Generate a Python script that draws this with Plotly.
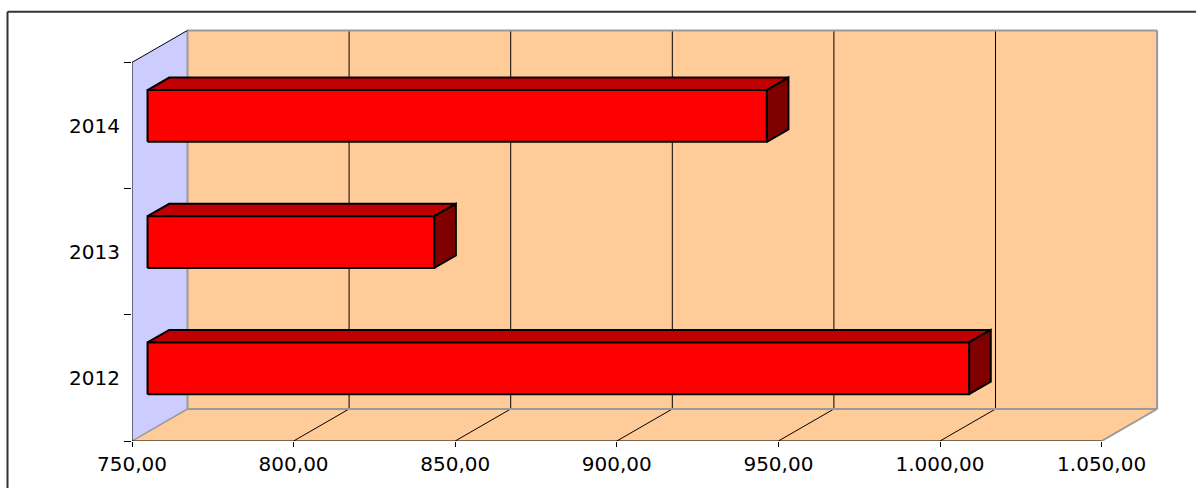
import plotly.graph_objects as go

# ---- data ----
years = ["2012", "2013", "2014"]
values = [1004.2, 838.7, 941.6]
x_ticks = [750, 800, 850, 900, 950, 1000, 1050]

# ---- geometry / style ----
W, H = 1196, 488
L, R, T, B = 132, 30, 26, 47
PX_PER_UNIT = 3.232
PX_PER_CAT = 126.2
plot_w = W - L - R
plot_h = H - T - B
XMIN, XMAX = x_ticks[0], x_ticks[-1]
x_range = [XMIN, XMIN + plot_w / PX_PER_UNIT]
y_range = [0, plot_h / PX_PER_CAT]
NCAT = len(years)
DX = 55.5 / PX_PER_UNIT   # depth offset in value units
DY = 32.0 / PX_PER_CAT    # depth offset in category units
D0, D1 = 0.28, 0.67       # bar depth fractions
Y0, Y1 = 0.30, 0.71       # bar vertical extent within category

LAVENDER = "#ccccff"
PEACH = "#ffcc99"
GRAY = "#9a9a9a"
FONT = dict(family="DejaVu Sans", size=20, color="#000000")

fig = go.Figure()
shapes = []

def poly(xs, ys):
    d = "M " + " L ".join(f"{x},{y}" for x, y in zip(xs, ys)) + " Z"
    return d

# walls & floor
shapes.append(dict(type="path", xref="x", yref="y", layer="below",
                   path=poly([XMIN, XMIN, XMIN + DX, XMIN + DX], [0, NCAT, NCAT + DY, DY]),
                   fillcolor=LAVENDER, line=dict(width=0)))
shapes.append(dict(type="path", xref="x", yref="y", layer="below",
                   path=poly([XMIN + DX, XMAX + DX, XMAX + DX, XMIN + DX], [DY, DY, NCAT + DY, NCAT + DY]),
                   fillcolor=PEACH, line=dict(width=0)))
shapes.append(dict(type="path", xref="x", yref="y", layer="below",
                   path=poly([XMIN, XMAX, XMAX + DX, XMIN + DX], [0, 0, DY, DY]),
                   fillcolor=PEACH, line=dict(width=0)))

def seg(x0, y0, x1, y1, color, width):
    shapes.append(dict(type="line", xref="x", yref="y", layer="below",
                       x0=x0, y0=y0, x1=x1, y1=y1, line=dict(color=color, width=width)))

# gridlines (back wall verticals + floor diagonals)
for v in x_ticks[1:-1]:
    seg(v + DX, DY, v + DX, NCAT + DY, "#000000", 1)
    seg(v, 0, v + DX, DY, "#000000", 1)

# gray wall borders
seg(XMIN + DX, DY, XMIN + DX, NCAT + DY, GRAY, 2)
seg(XMIN + DX, NCAT + DY, XMAX + DX, NCAT + DY, GRAY, 2)
seg(XMAX + DX, NCAT + DY, XMAX + DX, DY, GRAY, 2)
seg(XMIN + DX, DY, XMAX + DX, DY, GRAY, 2)
seg(XMAX, 0, XMAX + DX, DY, GRAY, 2)
seg(XMIN, 0, XMIN + DX, DY, GRAY, 1.5)

# black front edges
seg(XMIN, NCAT, XMIN + DX, NCAT + DY, "#000000", 1)
seg(XMIN, 0, XMIN, NCAT, "#000000", 1)
seg(XMIN, 0, XMAX, 0, "#000000", 1)

# outer chart border (top and left visible)
def px_to_paper_x(px):
    return (px - L) / plot_w

def px_to_paper_y(py):
    return (H - B - py) / plot_h

bx, by = 7.5, 11.7
shapes.append(dict(type="line", xref="paper", yref="paper",
                   x0=px_to_paper_x(bx), y0=px_to_paper_y(by),
                   x1=px_to_paper_x(W + 5), y1=px_to_paper_y(by),
                   line=dict(color="#333333", width=2)))
shapes.append(dict(type="line", xref="paper", yref="paper",
                   x0=px_to_paper_x(bx), y0=px_to_paper_y(by),
                   x1=px_to_paper_x(bx), y1=px_to_paper_y(H + 5),
                   line=dict(color="#333333", width=2)))

# bars
def face(xs, ys, color):
    fig.add_trace(go.Scatter(x=xs + [xs[0]], y=ys + [ys[0]], mode="lines",
                             fill="toself", fillcolor=color,
                             line=dict(color="#000000", width=2),
                             hoverinfo="skip", showlegend=False))

for i, (yr, v) in enumerate(zip(years, values)):
    c = i
    xf0 = XMIN + D0 * DX
    xf1 = v + D0 * DX
    xb0 = XMIN + D1 * DX
    xb1 = v + D1 * DX
    yf0 = c + Y0 + D0 * DY
    yf1 = c + Y1 + D0 * DY
    yb0 = c + Y0 + D1 * DY
    yb1 = c + Y1 + D1 * DY
    face([xf0, xf1, xb1, xb0], [yf1, yf1, yb1, yb1], "#c00000")   # top
    face([xf1, xb1, xb1, xf1], [yf0, yb0, yb1, yf1], "#800000")   # side
    face([xf0, xf1, xf1, xf0], [yf0, yf0, yf1, yf1], "#ff0000")   # front

# invisible trace on y2 for the category labels axis
fig.add_trace(go.Scatter(x=[XMIN], y=[0.5], yaxis="y2", mode="markers",
                         marker=dict(opacity=0), hoverinfo="skip", showlegend=False))

fig.update_layout(
    template="none",
    width=W, height=H,
    margin=dict(l=L, r=R, t=T, b=B, pad=0, autoexpand=False),
    paper_bgcolor="white", plot_bgcolor="white",
    separators=",.",
    shapes=shapes,
    xaxis=dict(range=x_range, tickvals=x_ticks, tickformat=",.2f",
               ticks="outside", ticklen=5, tickcolor="#000000", tickwidth=1,
               showgrid=False, zeroline=False, showline=False, automargin=False,
               tickfont=FONT, ticklabelstandoff=0, fixedrange=True),
    yaxis=dict(range=y_range, tickvals=list(range(NCAT + 1)),
               ticks="outside", ticklen=7, tickcolor="#000000", tickwidth=1,
               showticklabels=False, showgrid=False, zeroline=False, showline=False,
               automargin=False, fixedrange=True),
    yaxis2=dict(range=y_range, overlaying="y", side="left",
                tickvals=[i + 0.5 for i in range(NCAT)], ticktext=years,
                ticks="", tickfont=FONT, ticklabelstandoff=11, automargin=False,
                showgrid=False, zeroline=False, showline=False, fixedrange=True),
)

fig.write_html(
    "out.html",
    config={"displayModeBar": False, "staticPlot": True},
    post_script="document.body.style.margin='0px';document.body.style.overflow='hidden';",
)
